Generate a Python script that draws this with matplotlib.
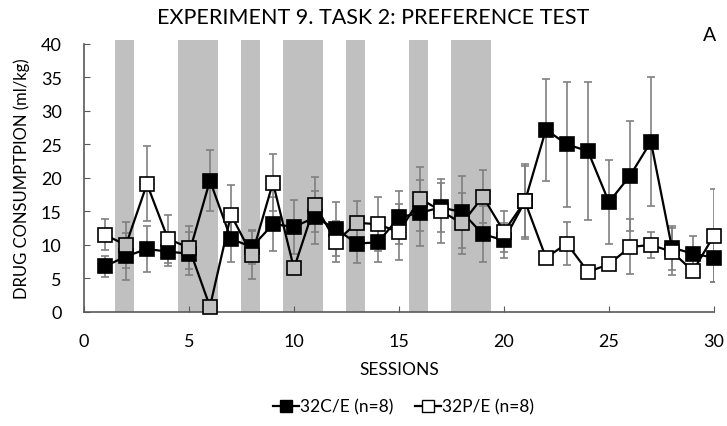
import numpy as np
import matplotlib.pyplot as plt
from matplotlib.lines import Line2D

plt.rcParams['font.family'] = ['Lato', 'DejaVu Sans']

# sessions and group means / SEM
sessions = np.arange(1, 31)
c_mean = [6.8, 8.3, 9.4, 9.0, 8.7, 19.6, 10.9, 9.7, 13.1, 12.7,
          14.1, 12.4, 10.2, 10.4, 14.1, 14.8, 15.6, 14.9, 11.6, 10.7,
          16.5, 27.2, 25.0, 24.0, 16.4, 20.3, 25.4, 9.6, 8.7, 8.1]
c_err = [1.6, 3.5, 3.5, 2.2, 3.2, 4.6, 3.5, 2.5, 4.0, 4.0,
         4.0, 4.0, 2.9, 3.0, 3.9, 4.9, 3.7, 5.4, 4.2, 2.6,
         5.3, 7.6, 9.3, 10.3, 6.2, 8.2, 9.6, 3.3, 2.6, 3.6]
p_mean = [11.5, 10.0, 19.1, 10.9, 9.6, 0.8, 14.5, 8.5, 19.3, 6.5,
          16.0, 10.5, 13.3, 13.1, 11.9, 16.9, 15.1, 13.2, 17.2, 12.0,
          16.5, 8.1, 10.2, 6.0, 7.1, 9.7, 10.0, 9.0, 6.1, 11.4]
p_err = [2.3, 3.4, 5.6, 3.6, 3.2, 0.5, 4.5, 3.6, 4.3, 0.5,
         4.1, 3.0, 3.2, 4.0, 4.2, 4.8, 4.8, 4.5, 4.0, 3.0,
         5.6, 0.5, 3.2, 0.5, 0.5, 4.1, 2.0, 3.5, 0.5, 6.9]

# shaded sessions
band_start = [1.5, 4.5, 7.5, 9.5, 12.5, 15.5, 17.5]
band_end = [2.4, 6.4, 8.4, 11.4, 13.4, 16.4, 19.4]

band_color = '#c0c0c0'

fig = plt.figure(figsize=(7.27, 4.27), dpi=100)
ax = fig.add_axes([0.1155, 0.267, 0.8665, 0.628])

for b0, b1 in zip(band_start, band_end):
    ax.axvspan(b0, b1, ymin=0, ymax=1.0125, color=band_color, lw=0, zorder=0, clip_on=False)

ekw = dict(ecolor='#808080', elinewidth=1.2, capsize=3, capthick=1.2)
ax.errorbar(sessions, c_mean, yerr=c_err, fmt='none', zorder=2, **ekw)
ax.errorbar(sessions, p_mean, yerr=p_err, fmt='none', zorder=2, **ekw)
ax.plot(sessions, c_mean, color='black', lw=1.6, marker='s', ms=9.5,
        mfc='black', mec='black', mew=1.2, zorder=3, clip_on=False)

# open squares take the band colour where they sit on a shaded session
p_arr = np.array(p_mean)
in_band = np.zeros(len(sessions), dtype=bool)
for b0, b1 in zip(band_start, band_end):
    in_band |= (sessions > b0) & (sessions < b1)
ax.plot(sessions, p_mean, color='black', lw=1.6, zorder=4, clip_on=False)
ax.plot(sessions[~in_band], p_arr[~in_band], ls='none', marker='s', ms=9.5,
        mfc='white', mec='black', mew=1.2, zorder=5, clip_on=False)
ax.plot(sessions[in_band], p_arr[in_band], ls='none', marker='s', ms=9.5,
        mfc=band_color, mec='black', mew=1.2, zorder=5, clip_on=False)

ax.set_xlim(0, 30)
ax.set_ylim(0, 40)
ax.set_xticks(range(0, 31, 5))
ax.set_yticks(range(0, 41, 5))
ax.tick_params(direction='in', length=4, color='#595959', labelsize=13)
ax.tick_params(axis='x', pad=15)
ax.tick_params(axis='y', pad=16)
for s in ['top', 'right']:
    ax.spines[s].set_visible(False)
for s in ['left', 'bottom']:
    ax.spines[s].set_color('#595959')
    ax.spines[s].set_linewidth(1.2)

ax.set_xlabel('SESSIONS', fontsize=12.5, labelpad=9)
ax.set_ylabel('DRUG CONSUMPTPION (ml/kg)', fontsize=12, labelpad=8)

fig.text(0.513, 0.958, 'EXPERIMENT 9. TASK 2: PREFERENCE TEST', ha='center', va='center', fontsize=15.5)
fig.text(0.985, 0.918, 'A', ha='right', va='center', fontsize=14)

handles = [Line2D([], [], color='black', lw=1.6, marker='s', ms=8, mfc='black', mec='black'),
           Line2D([], [], color='black', lw=1.6, marker='s', ms=8, mfc='white', mec='black')]
fig.legend(handles, ['32C/E (n=8)', '32P/E (n=8)'], loc='center', bbox_to_anchor=(0.555, 0.045),
           ncol=2, frameon=False, fontsize=12.5, handlelength=1.5, handletextpad=0.1, columnspacing=1.2)

fig.savefig('out.png', dpi=100)
